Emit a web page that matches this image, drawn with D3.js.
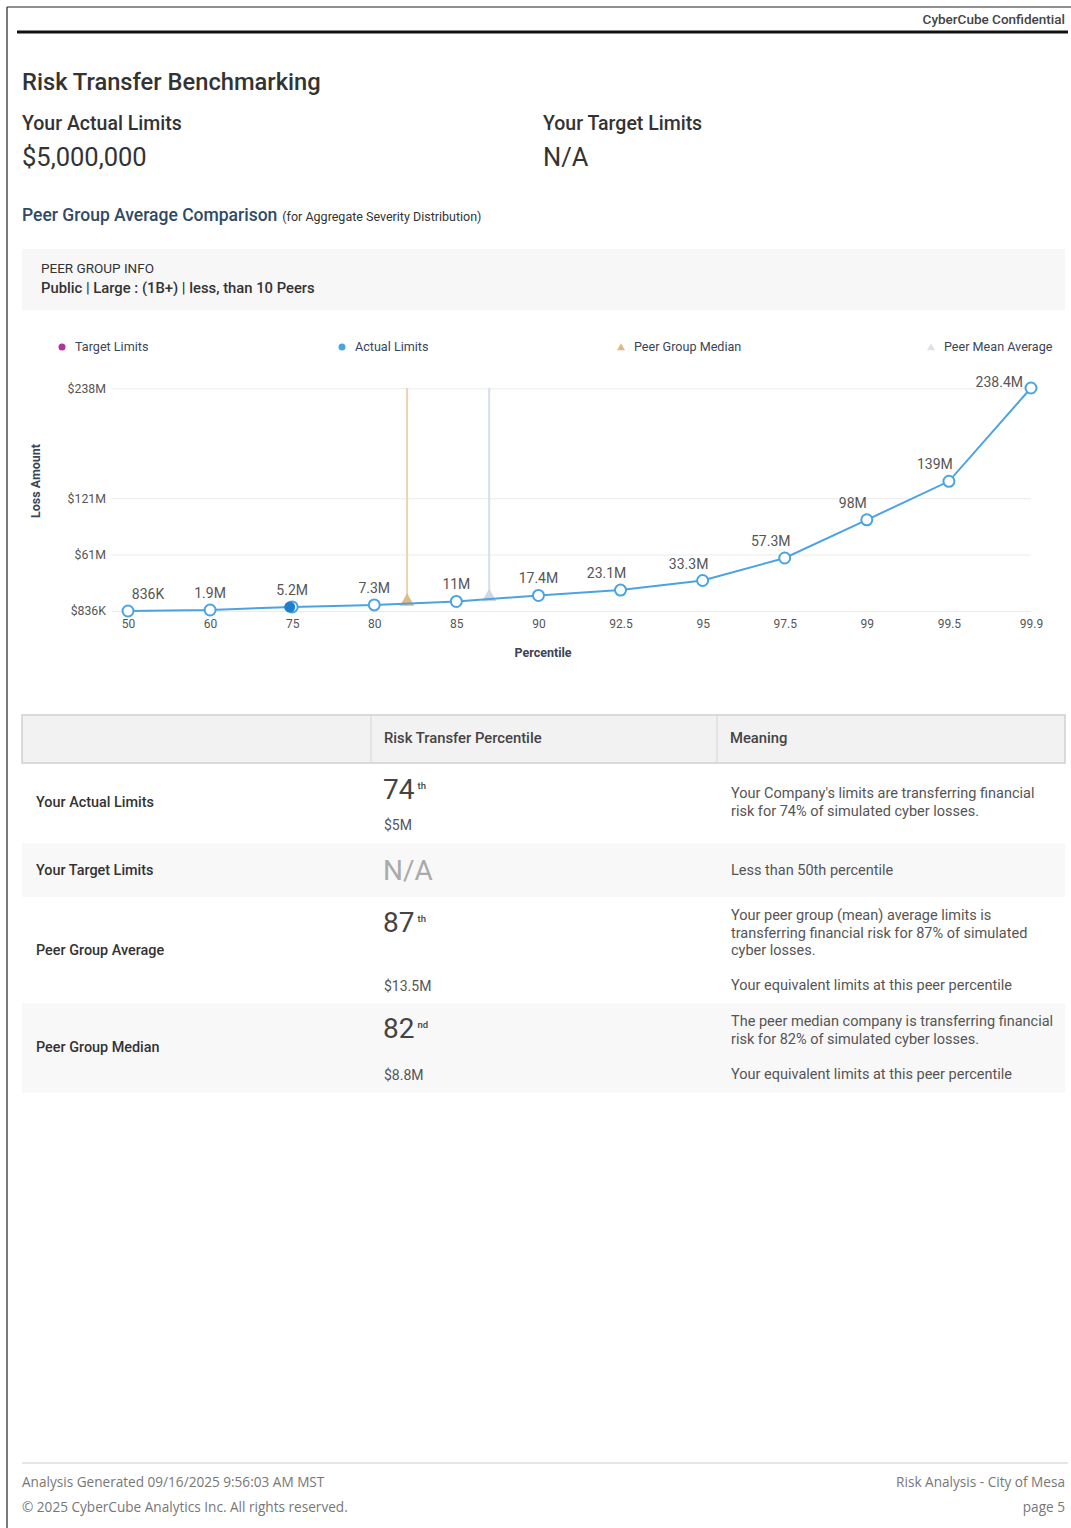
<!DOCTYPE html>
<html><head><meta charset="utf-8">
<script src="https://cdn.jsdelivr.net/npm/d3@7"></script>
<style>
html,body{margin:0;padding:0;background:#fff;}
svg{display:block;font-family:Roboto,"Noto Sans",sans-serif;}
</style></head>
<body>
<svg id="page" width="1071" height="1528"></svg>
<script>
// ---------- DATA ----------
const percentiles = ["50","60","75","80","85","90","92.5","95","97.5","99","99.5","99.9"];
const lossValues = [0.836, 1.9, 5.2, 7.3, 11, 17.4, 23.1, 33.3, 57.3, 98, 139, 238.4]; // $M
const lossLabels = ["836K","1.9M","5.2M","7.3M","11M","17.4M","23.1M","33.3M","57.3M","98M","139M","238.4M"];
const yTickValues = [0.836, 61, 121, 238];
const yTickLabels = ["$836K","$61M","$121M","$238M"];
const actualLimit = {pct: 74, value: 5.0};
const peerMedian = {pct: 82, value: 8.8};
const peerMean = {pct: 87, value: 13.5};
const legendItems = ["Target Limits","Actual Limits","Peer Group Median","Peer Mean Average"];
const tableHeaders = ["", "Risk Transfer Percentile", "Meaning"];
const tableRows = [
  {name:"Your Actual Limits", pct:"74", suf:"th", amount:"$5M",
   meaning:["Your Company's limits are transferring financial","risk for 74% of simulated cyber losses."], meaning2:null},
  {name:"Your Target Limits", pct:"N/A", suf:"", amount:null,
   meaning:["Less than 50th percentile"], meaning2:null},
  {name:"Peer Group Average", pct:"87", suf:"th", amount:"$13.5M",
   meaning:["Your peer group (mean) average limits is","transferring financial risk for 87% of simulated","cyber losses."], meaning2:"Your equivalent limits at this peer percentile"},
  {name:"Peer Group Median", pct:"82", suf:"nd", amount:"$8.8M",
   meaning:["The peer median company is transferring financial","risk for 82% of simulated cyber losses."], meaning2:"Your equivalent limits at this peer percentile"}
];

// ---------- PAGE ----------
const svg = d3.select("#page");
const C = {text:"#333", mid:"#555", light:"#777", blue:"#4ba3e0", blueDark:"#1f7fcf",
           tan:"#ecd2b0", tanTri:"#e0b987", mean:"#d6dee8", meanTri:"#cfd6de", purple:"#b0359a"};

// border
svg.append("line").attr("x1",7).attr("x2",7).attr("y1",7).attr("y2",1528).attr("stroke","#222").attr("stroke-width",1.2);
svg.append("line").attr("x1",7).attr("x2",1071).attr("y1",7).attr("y2",7).attr("stroke","#222").attr("stroke-width",1.2);
svg.append("line").attr("x1",17).attr("x2",1068).attr("y1",32).attr("y2",32).attr("stroke","#111").attr("stroke-width",3);
svg.append("text").attr("x",1065).attr("y",24).attr("text-anchor","end").attr("font-size",13.5).attr("font-weight",500)
  .attr("fill","#444").text("CyberCube Confidential");

svg.append("text").attr("x",22).attr("y",90).attr("font-size",23.7).attr("font-weight",500).attr("fill",C.text).text("Risk Transfer Benchmarking");
svg.append("text").attr("x",22).attr("y",130).attr("font-size",19.5).attr("font-weight",500).attr("fill",C.text).text("Your Actual Limits");
svg.append("text").attr("x",22).attr("y",166).attr("font-size",25.5).attr("fill",C.text).text("$5,000,000");
svg.append("text").attr("x",543).attr("y",130).attr("font-size",19.5).attr("font-weight",500).attr("fill",C.text).text("Your Target Limits");
svg.append("text").attr("x",543).attr("y",166).attr("font-size",25.5).attr("fill",C.text).text("N/A");

const pg = svg.append("text").attr("x",22).attr("y",221).attr("fill","#2f4a66");
pg.append("tspan").attr("font-size",17.5).attr("font-weight",500).text("Peer Group Average Comparison");
pg.append("tspan").attr("font-size",12.5).attr("dx",5).attr("fill","#333").text("(for Aggregate Severity Distribution)");

svg.append("rect").attr("x",22).attr("y",249).attr("width",1043).attr("height",61).attr("fill","#f7f7f7");
svg.append("text").attr("x",41).attr("y",273).attr("font-size",13.5).attr("fill","#333").text("PEER GROUP INFO");
svg.append("text").attr("x",41).attr("y",293).attr("font-size",14.8).attr("font-weight",500).attr("fill","#333").text("Public | Large : (1B+) | less, than 10 Peers");

// ---------- CHART ----------
const x = d3.scalePoint().domain(percentiles).range([128,1031]);
const y = d3.scaleLinear().domain([0.836, 238.4]).range([611, 388]);
function xPct(p){
  const nums = percentiles.map(Number);
  for(let i=0;i<nums.length-1;i++){
    if(p>=nums[i] && p<=nums[i+1]){
      const t=(p-nums[i])/(nums[i+1]-nums[i]);
      return x(percentiles[i]) + t*(x(percentiles[i+1])-x(percentiles[i]));
    }
  }
  return x(percentiles[0]);
}

// legend
const legX = [62, 342, 621, 931];
const lg = svg.append("g").attr("font-size",12.6).attr("fill","#3a4556");
legendItems.forEach((t,i)=>{
  const g = lg.append("g").attr("transform",`translate(${legX[i]},347)`);
  if(i<2) g.append("circle").attr("r",3.5).attr("fill", i===0?C.purple:C.blue);
  else g.append("path").attr("d",d3.symbol(d3.symbolTriangle,28)()).attr("transform","translate(0,1)").attr("fill", i===2?C.tanTri:"#dde2e8");
  g.append("text").attr("x",13).attr("y",4).text(t);
});

// grid + y axis
const yAxis = d3.axisLeft(y).tickValues(yTickValues).tickSize(-(1031-112)).tickFormat((d,i)=>yTickLabels[i]);
const yg = svg.append("g").attr("transform","translate(112,0)").call(yAxis);
yg.select(".domain").remove();
yg.selectAll(".tick line").attr("stroke","#ebebeb");
yg.selectAll(".tick text").attr("x",-6).attr("font-size",12.3).attr("fill","#555").attr("font-family","Roboto,sans-serif");

// x axis
const xAxis = d3.axisBottom(x).tickSize(0).tickPadding(6);
const xg = svg.append("g").attr("transform","translate(0,613)").call(xAxis);
xg.select(".domain").remove();
xg.selectAll(".tick text").attr("font-size",12).attr("fill","#555").attr("font-family","Roboto,sans-serif");

svg.append("text").attr("transform","translate(40,481) rotate(-90)").attr("text-anchor","middle")
  .attr("font-size",12.5).attr("font-weight",700).attr("fill","#3a4556").text("Loss Amount");
svg.append("text").attr("x",543).attr("y",657).attr("text-anchor","middle")
  .attr("font-size",12.5).attr("font-weight",700).attr("fill","#3a4556").text("Percentile");

// peer lines
[[peerMedian, C.tan, C.tanTri],[peerMean, C.mean, C.meanTri]].forEach(([p,lc,tc])=>{
  const px = xPct(p.pct);
  svg.append("line").attr("x1",px).attr("x2",px).attr("y1",y(238.4)).attr("y2",y(p.value)).attr("stroke",lc).attr("stroke-width",2);
  svg.append("path").attr("d",d3.symbol(d3.symbolTriangle,90)()).attr("transform",`translate(${px},${y(p.value)-2})`).attr("fill",tc);
});

// line
const pts = percentiles.map((p,i)=>({p, v:lossValues[i], l:lossLabels[i]}));
svg.append("path").datum(pts).attr("fill","none").attr("stroke",C.blue).attr("stroke-width",2)
  .attr("d", d3.line().x(d=>x(d.p)).y(d=>y(d.v)));
svg.selectAll("circle.pt").data(pts).join("circle").attr("class","pt")
  .attr("cx",d=>x(d.p)).attr("cy",d=>y(d.v)).attr("r",5.5).attr("fill","#fff").attr("stroke",C.blue).attr("stroke-width",2);
svg.selectAll("text.lbl").data(pts).join("text").attr("class","lbl")
  .attr("x",(d,i)=> i===pts.length-1 ? x(d.p)-8 : x(d.p) + (i===0?20:(i>=6?-14:0)))
  .attr("y",(d,i)=> i===pts.length-1 ? y(d.v)-1 : y(d.v)-12)
  .attr("text-anchor",(d,i)=> i===pts.length-1?"end":"middle")
  .attr("font-size",14).attr("fill","#555").text(d=>d.l);

// actual limit point
svg.append("circle").attr("cx",xPct(actualLimit.pct)+3).attr("cy",y(actualLimit.value)).attr("r",5.5).attr("fill",C.blueDark);

// ---------- TABLE ----------
const tX0=22, tX1=1065, col=[22,371,717];
svg.append("rect").attr("x",tX0).attr("y",715).attr("width",tX1-tX0).attr("height",48).attr("fill","#f2f2f2").attr("stroke","#cfcfcf").attr("stroke-width",1.5);
[371,717].forEach(cx=>svg.append("line").attr("x1",cx).attr("x2",cx).attr("y1",715).attr("y2",763).attr("stroke","#d5d5d5"));
tableHeaders.forEach((h,i)=>svg.append("text").attr("x",col[i]+13).attr("y",743).attr("font-size",14.8).attr("font-weight",500).attr("fill","#444").text(h));

const rowY=[763,843,897,1003,1093];
tableRows.forEach((r,i)=>{
  const y0=rowY[i], y1=rowY[i+1];
  if(i%2===1) svg.append("rect").attr("x",tX0).attr("y",y0).attr("width",tX1-tX0).attr("height",y1-y0).attr("fill","#f8f8f8");
  svg.append("text").attr("x",36).attr("y", i===0?807:(i===1?875:(i===2?955:1052))).attr("font-size",14.4).attr("font-weight",500).attr("fill","#333").text(r.name);
  if(r.pct==="N/A"){
    svg.append("text").attr("x",383).attr("y",880).attr("font-size",28).attr("fill","#aaa").text("N/A");
  } else {
    const py = i===0?799:(i===2?932:1038);
    const t=svg.append("text").attr("x",383).attr("y",py).attr("fill","#444");
    t.append("tspan").attr("font-size",28).text(r.pct);
    t.append("tspan").attr("font-size",9.5).attr("dx",3).attr("dy",-10).attr("font-weight",500).text(r.suf);
    const ay = i===0?830:(i===2?991:1080);
    svg.append("text").attr("x",384).attr("y",ay).attr("font-size",14).attr("fill","#555").text(r.amount);
  }
  const my0 = i===0?798:(i===1?875:(i===2?920:1026));
  r.meaning.forEach((m,j)=>svg.append("text").attr("x",731).attr("y",my0+j*17.5).attr("font-size",14.5).attr("fill","#555").text(m));
  if(r.meaning2){
    const m2y = i===2?990:1079;
    svg.append("text").attr("x",731).attr("y",m2y).attr("font-size",14.5).attr("fill","#555").text(r.meaning2);
  }
});

// ---------- FOOTER ----------
svg.append("line").attr("x1",22).attr("x2",1068).attr("y1",1463).attr("y2",1463).attr("stroke","#ddd").attr("stroke-width",1.5);
const ff = "'Open Sans',sans-serif";
const fs = 13.6;
svg.append("text").attr("x",22).attr("y",1487).attr("font-family",ff).attr("font-size",fs).attr("fill","#777").text("Analysis Generated 09/16/2025 9:56:03 AM MST");
svg.append("text").attr("x",22).attr("y",1512).attr("font-family",ff).attr("font-size",fs).attr("fill","#777").text("© 2025 CyberCube Analytics Inc. All rights reserved.");
svg.append("text").attr("x",1065).attr("y",1487).attr("text-anchor","end").attr("font-family",ff).attr("font-size",fs).attr("fill","#777").text("Risk Analysis - City of Mesa");
svg.append("text").attr("x",1065).attr("y",1512).attr("text-anchor","end").attr("font-family",ff).attr("font-size",fs).attr("fill","#777").text("page 5");
</script>
</body></html>
